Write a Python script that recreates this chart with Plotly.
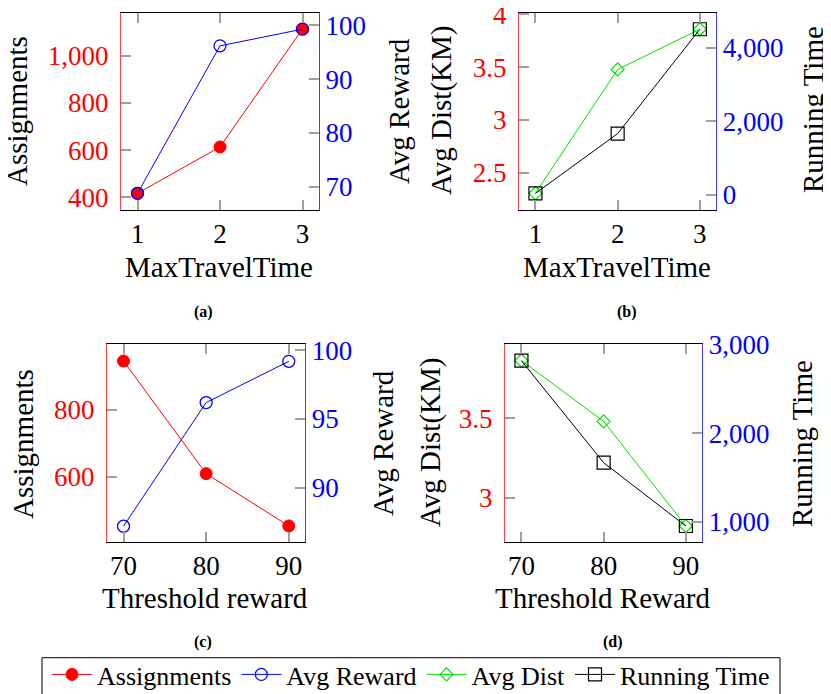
import plotly.graph_objects as go

# The page body has an 8px margin; work in reference-pixel coordinates and
# convert to paper fractions of the (slightly smaller) figure.
OFF = 8
W, H = 831 - OFF, 694 - OFF

def fx(px):
    return (px - OFF) / W

def fy(py):
    return 1 - (py - OFF) / H

# ---------------- data ----------------
max_travel_time = [1, 2, 3]
threshold_reward = [70, 80, 90]

a_assignments = [416, 613, 1115]
a_avg_reward = [68.8, 96.2, 99.3]

b_avg_dist = [2.306, 3.478, 3.858]
b_running_time = [38, 1665, 4509]

c_assignments = [945, 609, 453]
c_avg_reward = [87.2, 96.2, 99.2]

d_avg_dist = [3.865, 3.481, 2.82]
d_running_time = [2822, 1667, 950]

a_left_ticks = [400, 600, 800, 1000]
a_left_text = ["400", "600", "800", "1,000"]
a_right_ticks = [70, 80, 90, 100]
b_left_ticks = [2.5, 3, 3.5, 4]
b_left_text = ["2.5", "3", "3.5", "4"]
b_right_ticks = [0, 2000, 4000]
b_right_text = ["0", "2,000", "4,000"]
c_left_ticks = [600, 800]
c_right_ticks = [90, 95, 100]
d_left_ticks = [3, 3.5]
d_left_text = ["3", "3.5"]
d_right_ticks = [1000, 2000, 3000]
d_right_text = ["1,000", "2,000", "3,000"]

FONT = "Liberation Serif"
RED, BLUE, GREEN, BLACK = "#ff0000", "#0000ff", "#00e000", "#000000"
TICKSIZE = 27
TITLESIZE = 29

fig = go.Figure()

def red_trace(x, y, xa, ya, show):
    return go.Scatter(x=x, y=y, xaxis=xa, yaxis=ya, mode="lines+markers",
                      name="Assignments", showlegend=show, legendrank=1,
                      line=dict(color=RED, width=1),
                      marker=dict(symbol="circle", size=12, color=RED,
                                  line=dict(color=RED, width=1)))

def blue_trace(x, y, xa, ya, show):
    return go.Scatter(x=x, y=y, xaxis=xa, yaxis=ya, mode="lines+markers",
                      name="Avg Reward", showlegend=show, legendrank=2,
                      line=dict(color=BLUE, width=1),
                      marker=dict(symbol="circle-open", size=12, color=BLUE,
                                  line=dict(color=BLUE, width=1.3)))

def green_trace(x, y, xa, ya, show):
    return go.Scatter(x=x, y=y, xaxis=xa, yaxis=ya, mode="lines+markers",
                      name="Avg Dist", showlegend=show, legendrank=3,
                      line=dict(color=GREEN, width=1),
                      marker=dict(symbol="diamond-open", size=10, color=GREEN,
                                  line=dict(color=GREEN, width=1.2)))

def black_trace(x, y, xa, ya, show):
    return go.Scatter(x=x, y=y, xaxis=xa, yaxis=ya, mode="lines+markers",
                      name="Running Time", showlegend=show, legendrank=4,
                      line=dict(color=BLACK, width=1),
                      marker=dict(symbol="square-open", size=13, color=BLACK,
                                  line=dict(color=BLACK, width=1.2)))

fig.add_trace(red_trace(max_travel_time, a_assignments, "x", "y", True))
fig.add_trace(blue_trace(max_travel_time, a_avg_reward, "x", "y2", True))
fig.add_trace(green_trace(max_travel_time, b_avg_dist, "x2", "y3", True))
fig.add_trace(black_trace(max_travel_time, b_running_time, "x2", "y4", True))
fig.add_trace(red_trace(threshold_reward, c_assignments, "x3", "y5", False))
fig.add_trace(blue_trace(threshold_reward, c_avg_reward, "x3", "y6", False))
fig.add_trace(green_trace(threshold_reward, d_avg_dist, "x4", "y7", False))
fig.add_trace(black_trace(threshold_reward, d_running_time, "x4", "y8", False))

TICKCOL = "#a0a0a0"

def xaxis(dom, rng, vals, anchor):
    return dict(domain=[fx(dom[0]), fx(dom[1])], range=rng, tickvals=vals,
                anchor=anchor, showline=True, linecolor=BLACK, linewidth=1,
                mirror="ticks", ticks="inside", ticklen=10, tickwidth=1.5,
                tickcolor=TICKCOL, showgrid=False, zeroline=False,
                automargin=False, ticklabeloverflow="allow",
                tickfont=dict(family=FONT, size=TICKSIZE, color=BLACK),
                ticklabelstandoff=0)

def yleft(dom, rng, vals, text, anchor):
    return dict(domain=[fy(dom[1]), fy(dom[0])], range=rng,
                tickvals=vals, ticktext=text, anchor=anchor, side="left",
                showline=True, linecolor="rgba(255,0,0,0.75)", linewidth=1.2,
                mirror=False, ticks="inside", ticklen=10, tickwidth=1.5,
                tickcolor=TICKCOL, showgrid=False, zeroline=False,
                automargin=False, ticklabeloverflow="allow",
                tickfont=dict(family=FONT, size=TICKSIZE, color=RED),
                ticklabelstandoff=6)

def yright(rng, vals, text, anchor, over):
    return dict(range=rng, tickvals=vals, ticktext=text, anchor=anchor,
                overlaying=over, side="right",
                showline=True, linecolor="rgba(0,0,255,0.75)", linewidth=1.2,
                mirror=False, ticks="inside", ticklen=10, tickwidth=1.5,
                tickcolor=TICKCOL, showgrid=False, zeroline=False,
                automargin=False, ticklabeloverflow="allow",
                tickfont=dict(family=FONT, size=TICKSIZE, color=BLUE),
                ticklabelstandoff=0)

top_row = (13, 210)
bot_row = (344.3, 542)

fig.update_layout(
    width=W, height=H,
    margin=dict(l=0, r=0, t=0, b=0, autoexpand=False),
    paper_bgcolor="white", plot_bgcolor="white",
    font=dict(family=FONT, color=BLACK),
    xaxis=xaxis((121, 319), [0.8, 3.2], max_travel_time, "y"),
    yaxis=yleft(top_row, [345, 1183], a_left_ticks, a_left_text, "x"),
    yaxis2=yright([65.7, 102.3], a_right_ticks, [str(v) for v in a_right_ticks], "x", "y"),
    xaxis2=xaxis((519, 716.3), [0.8, 3.2], max_travel_time, "y3"),
    yaxis3=yleft(top_row, [2.148, 4.012], b_left_ticks, b_left_text, "x2"),
    yaxis4=yright([-416, 4952], b_right_ticks, b_right_text, "x2", "y3"),
    xaxis3=xaxis((107, 305.3), [68, 92], threshold_reward, "y5"),
    yaxis5=yleft(bot_row, [405, 995], c_left_ticks, [str(v) for v in c_left_ticks], "x3"),
    yaxis6=yright([86.05, 100.44], c_right_ticks, [str(v) for v in c_right_ticks], "x3", "y5"),
    xaxis4=xaxis((505, 702.3), [68, 92], threshold_reward, "y7"),
    yaxis7=yleft(bot_row, [2.719, 3.968], d_left_ticks, d_left_text, "x4"),
    yaxis8=yright([769, 3008], d_right_ticks, d_right_text, "x4", "y7"),
    legend=dict(orientation="h", x=fx((42 + 780) / 2), xanchor="center",
                y=fy(651), yanchor="top",
                borderwidth=0, bgcolor="rgba(0,0,0,0)",
                font=dict(family=FONT, size=26, color=BLACK),
                itemwidth=40, tracegroupgap=0),
)

# legend frame (extends past the bottom edge like the reference)
fig.add_shape(type="rect", xref="paper", yref="paper",
              x0=fx(42), x1=fx(780), y0=fy(710), y1=fy(657.7),
              line=dict(color=BLACK, width=1), fillcolor="rgba(0,0,0,0)",
              layer="below")

def ann(text, px, py, size=TITLESIZE, angle=0, bold=False):
    fig.add_annotation(text=("<b>%s</b>" % text) if bold else text,
                       x=fx(px), y=fy(py), xref="paper", yref="paper",
                       xanchor="center", yanchor="middle", showarrow=False,
                       textangle=angle,
                       font=dict(family=FONT, size=size, color=BLACK))

# axis titles
ann("Assignments", 17, 111, angle=-90)
ann("Avg Reward", 399, 111, angle=-90)
ann("MaxTravelTime", 219, 267)
ann("Avg Dist(KM)", 442, 111, angle=-90)
ann("Running Time", 813, 110, angle=-90)
ann("MaxTravelTime", 617, 267)
ann("Assignments", 23, 444, angle=-90)
ann("Avg Reward", 383, 443, angle=-90)
ann("Threshold reward", 205, 598)
ann("Avg Dist(KM)", 430, 443, angle=-90)
ann("Running Time", 802, 444, angle=-90)
ann("Threshold Reward", 603, 598)

# captions
ann("(a)", 203, 312, size=16, bold=True)
ann("(b)", 627, 312, size=16, bold=True)
ann("(c)", 203, 642, size=16, bold=True)
ann("(d)", 613, 642, size=16, bold=True)

fig.write_html("out.html")
